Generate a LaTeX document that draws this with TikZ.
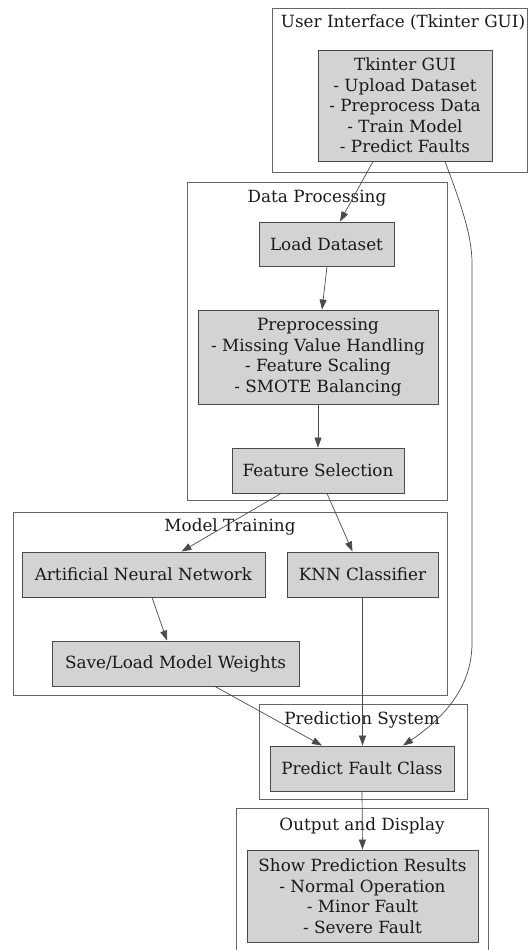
\documentclass[tikz,border=0pt]{standalone}
\usepackage{fontspec}
\setmainfont{DejaVu Serif}
\usetikzlibrary{arrows.meta}
\definecolor{boxfill}{HTML}{D3D3D3}
\definecolor{edgegray}{HTML}{4A4A4A}
\newcommand{\diagfont}{\fontsize{16.8}{20.5}\selectfont}
\tikzset{
  stepbox/.style={draw=edgegray, fill=boxfill, line width=0.9pt, text=black!90,
    align=center, inner sep=0pt, font=\diagfont},
  clusterbox/.style={draw=edgegray!85, line width=0.9pt},
  clusterlabel/.style={text=black!90, inner sep=0pt, font=\diagfont},
  flow/.style={draw=edgegray, line width=0.7pt, -{Triangle[length=10pt,width=7pt]}}
}
\begin{document}
\begin{tikzpicture}[x=1pt,y=-1pt]
\useasboundingbox (0,0) rectangle (529,950);

% clusters
\draw[clusterbox] (272,8) rectangle (527,172);
\node[clusterlabel] (lui) at (403,22) {User Interface (Tkinter GUI)};
\draw[clusterbox] (187,182) rectangle (447,500);
\node[clusterlabel] (ldp) at (317,198) {Data Processing};
\draw[clusterbox] (13,512) rectangle (447,695);
\node[clusterlabel] (lmt) at (230,527) {Model Training};
\draw[clusterbox] (259,704) rectangle (467,799);
\node[clusterlabel] (lps) at (362,720) {Prediction System};
\draw[clusterbox] (236,808) rectangle (488,952);
\node[clusterlabel] (lod) at (362,826) {Output and Display};

% process nodes
\node[stepbox, minimum width=174pt, minimum height=111pt] (gui) at (405,105.5)
  {Tkinter GUI\\- Upload Dataset\\- Preprocess Data\\- Train Model\\- Predict Faults};
\node[stepbox, minimum width=135pt, minimum height=44pt] (load) at (326.5,244) {Load Dataset};
\node[stepbox, minimum width=240pt, minimum height=94pt] (pre) at (318,357)
  {Preprocessing\\- Missing Value Handling\\- Feature Scaling\\- SMOTE Balancing};
\node[stepbox, minimum width=172pt, minimum height=45pt] (fsel) at (318,470.5) {Feature Selection};
\node[stepbox, minimum width=243pt, minimum height=45pt] (ann) at (143.5,574.5) {Artificial Neural Network};
\node[stepbox, minimum width=151pt, minimum height=45pt] (knn) at (362.5,574.5) {KNN Classifier};
\node[stepbox, minimum width=247pt, minimum height=45pt] (save) at (175.5,663.5) {Save/Load Model Weights};
\node[stepbox, minimum width=184pt, minimum height=45pt] (pred) at (362,768.5) {Predict Fault Class};
\node[stepbox, minimum width=231pt, minimum height=92pt] (show) at (362.5,896)
  {Show Prediction Results\\- Normal Operation\\- Minor Fault\\- Severe Fault};

% connectors
\draw[flow] ([xshift=-32pt]gui.south) -- ([xshift=13.5pt]load.north);
\draw[flow] ([xshift=0.5pt]load.south) -- ([xshift=4pt]pre.north);
\draw[flow] (pre.south) -- (fsel.north);
\draw[flow] ([xshift=-37pt]fsel.south) -- ([xshift=38pt]ann.north);
\draw[flow] ([xshift=9pt]fsel.south) -- ([xshift=-10pt]knn.north);
\draw[flow] ([xshift=8.5pt]ann.south) -- ([xshift=-8.5pt]save.north);
\draw[flow] (knn.south) -- (knn.south |- pred.north);
\draw[flow] ([xshift=39.5pt]save.south) -- ([xshift=-40pt]pred.north);
\draw[flow] ([xshift=40pt]gui.south) .. controls +(15,40) and +(0,-28) .. (472,263)
  -- (472,643) .. controls +(0,47) and +(37,-25) .. ([xshift=41pt]pred.north);
\draw[flow] (pred.south) -- (show.north);
\end{tikzpicture}
\end{document}
